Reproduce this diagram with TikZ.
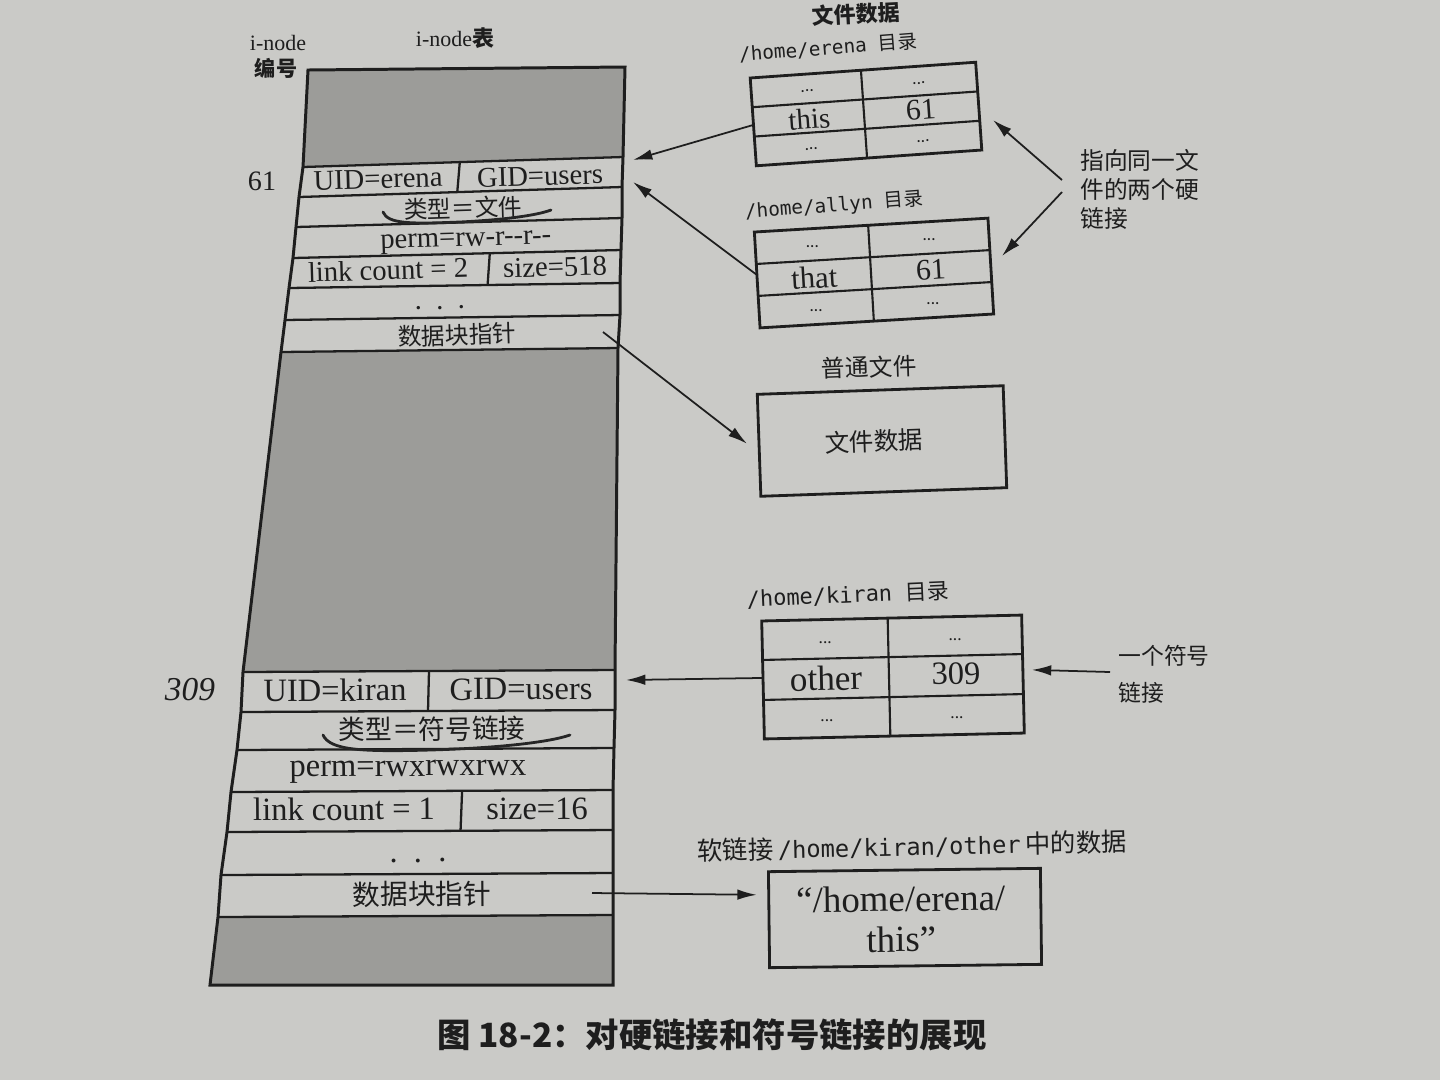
\documentclass[tikz,border=0pt]{standalone}
\usepackage{fontspec}
\setmainfont{Liberation Serif}
\newfontfamily\cjk{Noto Sans CJK SC}
\newfontfamily\monof{DejaVu Sans Mono}
\usetikzlibrary{arrows.meta,calc}
\newcommand\fsz[1]{\fontsize{#1}{#1}\selectfont}
\definecolor{paper}{RGB}{202,202,199}
\definecolor{shd}{RGB}{156,156,153}
\definecolor{ink}{RGB}{30,30,30}
\tikzset{
  outl/.style={draw=ink,line width=1.7pt,line join=miter},
  rowl/.style={draw=ink,line width=1.3pt},
  boxl/.style={draw=ink,line width=1.6pt},
  cell/.style={draw=ink,line width=1.2pt},
  arr/.style={draw=ink,line width=1pt,-{Latex[length=11pt,width=6pt]}},
  txt/.style={inner sep=0pt,text=ink},
  pen/.style={draw=black!85,line width=1.6pt,line cap=round},
  dots/.style={txt,transform shape,font=\fsz{10}},
}
\begin{document}
\begin{tikzpicture}[x=0.02cm,y=-0.02cm]
\fill[paper] (0,0) rectangle (1440,1080);
\useasboundingbox (0,0) rectangle (1440,1080);

% ---------- i-node table geometry ----------
\coordinate (a0L) at (308,70);  \coordinate (a0R) at (625,67);
\coordinate (a1L) at (303,167); \coordinate (a1R) at (623,157);
\coordinate (a2L) at (299,197); \coordinate (a2R) at (622,187);
\coordinate (a3L) at (296,227); \coordinate (a3R) at (622,218);
\coordinate (a4L) at (293,258); \coordinate (a4R) at (621,250);
\coordinate (a5L) at (289,288); \coordinate (a5R) at (620,283);
\coordinate (a6L) at (285,320); \coordinate (a6R) at (620,315);
\coordinate (a7L) at (281,352); \coordinate (a7R) at (618,348);
\coordinate (b0L) at (243,672); \coordinate (b0R) at (615,670);
\coordinate (b1L) at (241,712); \coordinate (b1R) at (615,710);
\coordinate (b2L) at (237,750); \coordinate (b2R) at (614,748);
\coordinate (b3L) at (231,792); \coordinate (b3R) at (613,790);
\coordinate (b4L) at (227,832); \coordinate (b4R) at (613,830);
\coordinate (b5L) at (221,875); \coordinate (b5R) at (613,873);
\coordinate (b6L) at (218,917); \coordinate (b6R) at (613,915);
\coordinate (b7L) at (210,985); \coordinate (b7R) at (613,985);

\fill[shd] (a0L)--(a0R)--(a1R)--(a1L)--cycle;
\fill[shd] (a7L)--(a7R)--(b0R)--(b0L)--cycle;
\fill[shd] (b6L)--(b6R)--(b7R)--(b7L)--cycle;
\foreach \nm in {a1,a2,a3,a4,a5,a6,a7,b0,b1,b2,b3,b4,b5,b6}
  \draw[rowl] (\nm L)--(\nm R);
\draw[outl] (a0L)--(a0R)--(a1R)--(a2R)--(a3R)--(a4R)--(a5R)--(a6R)--(a7R)--(b0R)--(b1R)--(b2R)--(b3R)--(b4R)--(b5R)--(b6R)--(b7R)
  --(b7L)--(b6L)--(b5L)--(b4L)--(b3L)--(b2L)--(b1L)--(b0L)--(a7L)--(a6L)--(a5L)--(a4L)--(a3L)--(a2L)--(a1L)--cycle;
\draw[rowl] ($(a1L)!0.49!(a1R)$)--($(a2L)!0.49!(a2R)$);
\draw[rowl] ($(a4L)!0.6!(a4R)$)--($(a5L)!0.6!(a5R)$);
\draw[rowl] ($(b0L)!0.5!(b0R)$)--($(b1L)!0.5!(b1R)$);
\draw[rowl] ($(b3L)!0.605!(b3R)$)--($(b4L)!0.605!(b4R)$);

% ---------- headings left ----------
\node[txt,font=\fsz{12.5}] (inum1) at (278,43) {i-node};
\node[txt,font=\cjk\bfseries\fsz{12}] (inum2) at (276,68) {编号};
\node[txt,font=\fsz{12.5}] (itab) at (455,38) {i-node{\cjk\bfseries 表}};
\node[txt,font=\fsz{16}] (n61) at (262,181) {61};
\node[txt,font=\itshape\fsz{19}] (n309) at (190,690) {309};

% ---------- top i-node rows ----------
\begin{scope}[every node/.style={txt,rotate=1.7,font=\fsz{16.3}}]
\node (uid1) at (378,179) {UID=erena};
\node (gid1) at (540,176) {GID=users};
\node[font=\cjk\fsz{13.5}] (typ1) at (463,208) {类型＝文件};
\node[anchor=base] (perm1) at (466,246) {perm=rw-r-\kern0pt-r-\kern0pt-};
\node (lc1) at (388,270) {link count = 2};
\node (sz1) at (555,267) {size=518};
\node[anchor=base] (dd1) at (440,309) {.\ \ .\ \ .};
\node[font=\cjk\fsz{13.5}] (ptr1t) at (457,335) {数据块指针};
\end{scope}
% ---------- lower i-node rows ----------
\begin{scope}[every node/.style={txt,rotate=0.4,font=\fsz{18.5}}]
\node (uid2) at (335,690) {UID=kiran};
\node (gid2) at (521,689) {GID=users};
\node[font=\cjk\fsz{15.2}] (typ2) at (432,729) {类型＝符号链接};
\node[anchor=base] (perm2) at (408,776) {perm=rwxrwxrwx};
\node (lc2) at (344,809) {link count = 1};
\node (sz2) at (537,809) {size=16};
\node[anchor=base] (dd2) at (418,862) {.\ \ .\ \ .};
\node[font=\cjk\fsz{15.8}] (ptr2t) at (422,894) {数据块指针};
\end{scope}

% hand-drawn pen marks
\draw[pen] (383,212) .. controls (388,224) and (410,224) .. (460,222) .. controls (500,220) and (535,216) .. (551,210);
\draw[pen] (323,735) .. controls (330,750) and (360,752) .. (430,750) .. controls (500,748) and (550,742) .. (570,735);

% ---------- right labels ----------
\node[txt,font=\cjk\bfseries\fsz{12.5},rotate=3] (fdlab) at (856,14) {文件数据};
\node[txt,rotate=4.5] (erlab) at (828,48) {\monof\fsz{11}/home/erena\ {\cjk 目录}};
\node[txt,rotate=4.5] (allab) at (834,206) {\monof\fsz{11}/home/allyn\ {\cjk 目录}};
\node[txt,font=\cjk\fsz{13.5},rotate=2] (ptlab) at (869,367) {普通文件};
\node[txt,rotate=2.5] (kilab) at (848,595) {\monof\fsz{12.5}/home/kiran\ {\cjk 目录}};
\node[txt,rotate=1.2] (sflab) at (912,846) {{\cjk\fsz{14.5}软链接}\ {\monof\fsz{13.5}/home/kiran/other}\ {\cjk\fsz{14.5}中的数据}};
\node[txt,font=\cjk\fontsize{13.5}{16.5}\selectfont,align=left,anchor=north west] (hl) at (1080,149) {指向同一文\\件的两个硬\\链接};
\node[txt,font=\cjk\fontsize{13}{21}\selectfont,align=left,anchor=north west] (sym) at (1118,645) {一个符号\\链接};

% ---------- /home/erena ----------
\begin{scope}[shift={(866,114)},rotate=4]
 \draw[boxl] (-113,-44) rectangle (113,44);
 \draw[cell] (-113,-14.7)--(113,-14.7) (-113,14.7)--(113,14.7) (-2,-44)--(-2,44);
 \node[dots] (e1) at (-57,-27) {...};
 \node[dots] (e2) at (55,-27) {...};
 \node[txt,transform shape,font=\fsz{16.5}] (e3) at (-57,1) {this};
 \node[txt,transform shape,font=\fsz{17}] (e4) at (55,0) {61};
 \node[dots] (e5) at (-57,31) {...};
 \node[dots] (e6) at (55,31) {...};
 \coordinate (erW) at (-113,3);
\end{scope}
% ---------- /home/allyn ----------
\begin{scope}[shift={(874,273)},rotate=3.4]
 \draw[boxl] (-117,-48) rectangle (117,48);
 \draw[cell] (-117,-16)--(117,-16) (-117,16)--(117,16) (-3,-48)--(-3,48);
 \node[dots] (f1) at (-60,-30) {...};
 \node[dots] (f2) at (57,-30) {...};
 \node[txt,transform shape,font=\fsz{17.5}] (f3) at (-60,1) {that};
 \node[txt,transform shape,font=\fsz{17}] (f4) at (57,0) {61};
 \node[dots] (f5) at (-60,34) {...};
 \node[dots] (f6) at (57,34) {...};
 \coordinate (alW) at (-117,-5);
\end{scope}
% ---------- regular file data ----------
\begin{scope}[shift={(882,441)},rotate=2]
 \draw[boxl] (-123,-51) rectangle (123,51);
 \node[txt,transform shape,font=\cjk\fsz{14}] (fdat) at (-8,0) {文件数据};
 \coordinate (fdW) at (-135,-2);
\end{scope}
% ---------- /home/kiran ----------
\begin{scope}[shift={(893,677)},rotate=1.3]
 \draw[boxl] (-130,-59) rectangle (130,59);
 \draw[cell] (-130,-20)--(130,-20) (-130,20)--(130,20) (-4,-59)--(-4,59);
 \node[dots] (k1) at (-67,-36) {...};
 \node[dots] (k2) at (63,-36) {...};
 \node[txt,transform shape,font=\fsz{20}] (k3) at (-67,0) {other};
 \node[txt,transform shape,font=\fsz{18.5}] (k4) at (63,-2) {309};
 \node[dots] (k5) at (-67,42) {...};
 \node[dots] (k6) at (63,42) {...};
 \coordinate (kiW) at (-130,-2);
 \coordinate (kiE) at (139,-4);
\end{scope}
% ---------- soft link data ----------
\begin{scope}[shift={(905,918)},rotate=0.7]
 \draw[boxl] (-136,-48) rectangle (136,48);
 \node[txt,transform shape,align=center,font=\fontsize{21}{23}\selectfont] (sdat) at (-4,1) {“/home/erena/\\this”};
 \coordinate (sfW) at (-148,-25);
\end{scope}

% ---------- connector end points ----------
\coordinate (tR1) at (633,160);
\coordinate (tR2) at (633,182);
\coordinate (tR3) at (626,680);
\coordinate (ptr1) at (603,332);
\coordinate (ptr2) at (592,893);
\coordinate (hlA) at (1062,180);
\coordinate (hlB) at (1062,192);
\coordinate (erE) at (993,120);
\coordinate (alE) at (1002,256);
\coordinate (symW) at (1110,672);

% ---------- connectors ----------
\draw[arr] (erW) -- (tR1);
\draw[arr] (alW) -- (tR2);
\draw[arr] (hlA) -- (erE);
\draw[arr] (hlB) -- (alE);
\draw[arr] (ptr1) -- (fdW);
\draw[arr] (kiW) -- (tR3);
\draw[arr] (symW) -- (kiE);
\draw[arr] (ptr2) -- (sfW);

% ---------- caption ----------
\node[txt,font=\cjk\bfseries\fsz{19}] (cap) at (712,1035) {图 18-2：对硬链接和符号链接的展现};
\end{tikzpicture}
\end{document}
